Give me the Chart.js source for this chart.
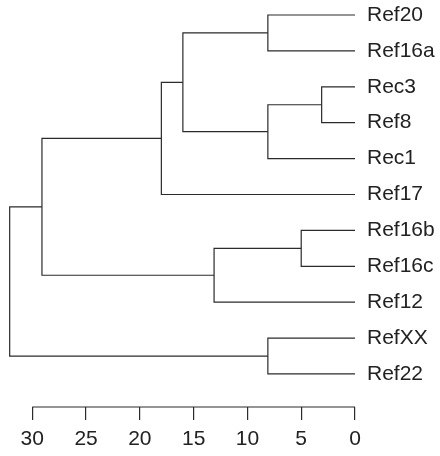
<!DOCTYPE html>
<html>
<head>
<meta charset="utf-8">
<script src="https://cdn.jsdelivr.net/npm/chart.js@4"></script>
<style>
  html, body { margin: 0; padding: 0; background: #fff; }
  #wrap { width: 440px; height: 456px; }
</style>
</head>
<body>
<div id="wrap"><canvas id="dendro"></canvas></div>
<script>
// leaves top to bottom
const leaves = ['Ref20', 'Ref16a', 'Rec3', 'Ref8', 'Rec1', 'Ref17', 'Ref16b', 'Ref16c', 'Ref12', 'RefXX', 'Ref22'];
// merge table, R style: negative = leaf (1-based), positive = earlier merge
const mergeLeft = [-3, -7, -1, 1, -10, 3, 2, 6, 8, 9];
const mergeRight = [-4, -8, -2, -5, -11, 4, -9, -6, 7, 5];
const mergeHeight = [3.1, 5, 8.1, 8.1, 8.1, 16, 13.1, 18, 29.1, 32.1];
const xTicks = [30, 25, 20, 15, 10, 5, 0];

const lineColor = '#2b2b2b';
const nodeY = [], nodeH = [];
function pos(ref) {
  if (ref < 0) return { y: -ref - 1, h: 0 };
  return { y: nodeY[ref - 1], h: nodeH[ref - 1] };
}

const datasets = mergeHeight.map((h, i) => {
  const a = pos(mergeLeft[i]), b = pos(mergeRight[i]);
  nodeY.push((a.y + b.y) / 2);
  nodeH.push(h);
  return {
    data: [{ x: a.h, y: a.y }, { x: h, y: a.y }, { x: h, y: b.y }, { x: b.h, y: b.y }],
    borderColor: lineColor,
    borderWidth: 1.2,
    pointRadius: 0,
    tension: 0,
    fill: false,
  };
});

const axisLine = {
  id: 'axisLine',
  afterDraw(chart) {
    const sx = chart.scales.x, ctx = chart.ctx;
    const y = chart.chartArea.bottom;
    ctx.save();
    ctx.strokeStyle = lineColor;
    ctx.lineWidth = 1.2;
    ctx.beginPath();
    ctx.moveTo(sx.getPixelForValue(xTicks[0]), y);
    ctx.lineTo(sx.getPixelForValue(xTicks[xTicks.length - 1]), y);
    ctx.stroke();
    ctx.restore();
  },
};

new Chart(document.getElementById('dendro'), {
  type: 'line',
  data: { datasets },
  plugins: [axisLine],
  options: {
    responsive: true,
    maintainAspectRatio: false,
    animation: false,
    parsing: false,
    layout: { padding: 0 },
    plugins: { legend: { display: false }, tooltip: { enabled: false } },
    scales: {
      x: {
        type: 'linear',
        reverse: true,
        min: 0,
        max: 33,
        afterBuildTicks: s => { s.ticks = xTicks.map(v => ({ value: v })); },
        afterFit: s => { s.height = 49; s.paddingLeft = 0; s.paddingRight = 0; },
        border: { display: false },
        grid: { drawOnChartArea: false, drawTicks: true, tickLength: 13, color: lineColor, lineWidth: 1.2 },
        ticks: { color: '#222', padding: 7, maxRotation: 0, font: { family: 'Liberation Sans', size: 21 } },
      },
      y: {
        type: 'linear',
        position: 'right',
        reverse: true,
        min: -0.418,
        max: 10.92,
        afterBuildTicks: s => { s.ticks = leaves.map((_, i) => ({ value: i })); },
        afterFit: s => { s.width = 85; s.paddingTop = 0; s.paddingBottom = 0; },
        border: { display: false },
        grid: { display: false, drawTicks: false },
        ticks: {
          color: '#222',
          padding: 12,
          crossAlign: 'near',
          font: { family: 'Liberation Sans', size: 21 },
          callback: v => leaves[v],
        },
      },
    },
  },
});
</script>
</body>
</html>
